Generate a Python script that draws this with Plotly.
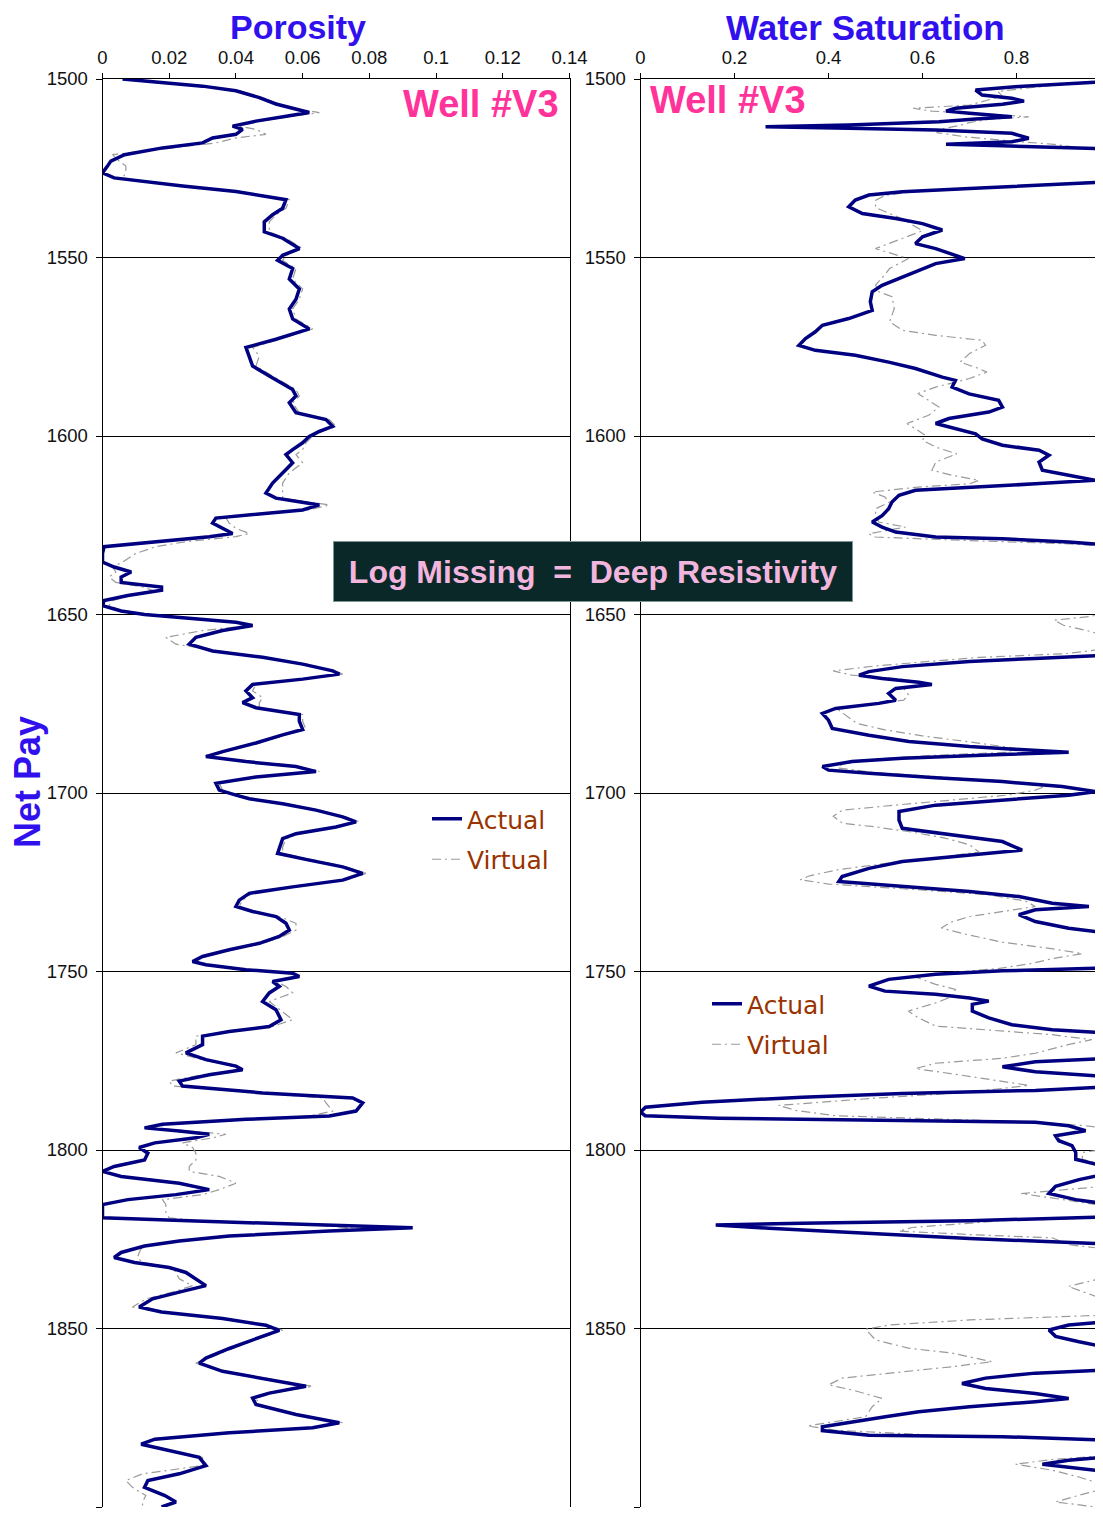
import plotly.graph_objects as go

# ---------------- data ----------------
por_depth = [
    1500.0, 1500.6, 1501.2, 1502.0, 1503.3, 1505.2, 1507.0, 1508.5, 1509.4, 1510.3,
    1511.8, 1513.2, 1514.1, 1515.5, 1516.5, 1517.9, 1519.3, 1521.2, 1523.0, 1524.4,
    1526.3, 1527.7, 1528.7, 1530.0, 1531.5, 1532.9, 1533.8, 1536.2, 1538.0, 1540.0,
    1542.8, 1544.6, 1547.5, 1549.4, 1550.8, 1553.1, 1556.0, 1558.8, 1561.7, 1564.4,
    1567.2, 1570.0, 1572.9, 1575.2, 1577.6, 1580.4, 1583.2, 1587.0, 1588.8, 1590.7,
    1593.5, 1595.4, 1597.3, 1598.7, 1600.1, 1601.9, 1603.8, 1605.2, 1607.5, 1610.3,
    1613.2, 1616.0, 1617.4, 1618.3, 1619.3, 1620.7, 1622.1, 1623.0, 1624.4, 1625.9,
    1627.3, 1628.2, 1629.6, 1631.0, 1632.9, 1635.3, 1636.7, 1638.1, 1639.5, 1641.0,
    1642.3, 1643.2, 1644.7, 1646.1, 1647.5, 1649.0, 1650.0, 1651.2, 1652.2, 1653.1,
    1654.5, 1656.4, 1658.3, 1660.2, 1662.0, 1663.9, 1665.8, 1666.7, 1668.1, 1669.6,
    1671.4, 1673.3, 1674.7, 1676.1, 1678.0, 1679.9, 1682.2, 1683.7, 1686.0, 1688.4,
    1689.8, 1691.2, 1692.6, 1694.0, 1695.5, 1697.3, 1699.2, 1700.6, 1701.6, 1703.0,
    1704.8, 1706.7, 1708.1, 1709.5, 1711.4, 1712.8, 1715.1, 1716.9, 1718.8, 1720.7,
    1722.5, 1724.4, 1726.3, 1728.1, 1730.0, 1731.8, 1733.2, 1734.6, 1736.5, 1738.4,
    1740.2, 1742.1, 1743.9, 1745.8, 1747.2, 1748.1, 1749.5, 1750.5, 1751.4, 1752.8,
    1754.2, 1756.0, 1758.4, 1760.7, 1763.5, 1765.4, 1766.8, 1768.1, 1770.5, 1772.8,
    1774.7, 1776.5, 1777.5, 1778.9, 1780.7, 1782.1, 1784.0, 1785.4, 1786.8, 1789.1,
    1790.5, 1791.4, 1792.8, 1793.8, 1794.7, 1795.6, 1796.6, 1798.0, 1799.3, 1800.9,
    1802.8, 1804.6, 1806.0, 1807.4, 1809.3, 1811.1, 1812.5, 1813.9, 1815.3, 1817.6,
    1819.0, 1819.9, 1820.8, 1821.8, 1822.7, 1824.1, 1825.5, 1826.9, 1828.7, 1830.1,
    1831.5, 1832.9, 1834.3, 1836.1, 1838.0, 1839.8, 1841.7, 1844.0, 1845.4, 1847.2,
    1849.1, 1850.5, 1852.8, 1855.6, 1858.3, 1859.7, 1862.0, 1863.9, 1866.2, 1868.1,
    1869.5, 1871.3, 1874.1, 1876.4, 1877.8, 1879.2, 1881.0, 1882.4, 1884.3, 1886.1,
    1888.4, 1890.7, 1892.6, 1894.5, 1896.8, 1898.6, 1900.0,
]

por_actual = [
    0.006, 0.013, 0.022, 0.030, 0.040, 0.047, 0.052, 0.058, 0.062, 0.056,
    0.046, 0.039, 0.042, 0.040, 0.033, 0.030, 0.018, 0.0066, 0.0025, 0.0015,
    0.000, 0.0035, 0.0126, 0.024, 0.040, 0.050, 0.055, 0.054, 0.051, 0.0485,
    0.0485, 0.054, 0.059, 0.054, 0.0525, 0.057, 0.056, 0.059, 0.058, 0.056,
    0.057, 0.062, 0.052, 0.043, 0.044, 0.045, 0.050, 0.057, 0.058, 0.056,
    0.058, 0.067, 0.069, 0.065, 0.062, 0.060, 0.057, 0.055, 0.057, 0.054,
    0.051, 0.049, 0.052, 0.058, 0.065, 0.060, 0.043, 0.034, 0.033, 0.036,
    0.039, 0.032, 0.016, 0.0005, 0.000, 0.000, 0.0035, 0.0086, 0.0056, 0.0056,
    0.0177, 0.0177, 0.0076, 0.0005, 0.000, 0.0056, 0.0126, 0.028, 0.040, 0.045,
    0.036, 0.028, 0.026, 0.033, 0.048, 0.060, 0.069, 0.071, 0.060, 0.045,
    0.043, 0.045, 0.042, 0.046, 0.059, 0.059, 0.060, 0.054, 0.046, 0.036,
    0.031, 0.043, 0.058, 0.064, 0.046, 0.034, 0.035, 0.040, 0.044, 0.054,
    0.064, 0.072, 0.076, 0.070, 0.058, 0.054, 0.053, 0.0525, 0.062, 0.072,
    0.078, 0.072, 0.057, 0.044, 0.041, 0.040, 0.045, 0.052, 0.055, 0.056,
    0.053, 0.047, 0.038, 0.030, 0.027, 0.031, 0.043, 0.057, 0.059, 0.051,
    0.053, 0.050, 0.048, 0.052, 0.0535, 0.050, 0.038, 0.030, 0.030, 0.025,
    0.031, 0.040, 0.042, 0.032, 0.023, 0.024, 0.048, 0.075, 0.078, 0.076,
    0.068, 0.043, 0.018, 0.0126, 0.023, 0.032, 0.028, 0.0157, 0.011, 0.0136,
    0.0126, 0.0035, 0.000, 0.0056, 0.023, 0.032, 0.022, 0.0076, 0.000, 0.000,
    0.000, 0.028, 0.063, 0.093, 0.068, 0.038, 0.023, 0.0126, 0.0056, 0.0035,
    0.0096, 0.020, 0.025, 0.028, 0.031, 0.023, 0.015, 0.011, 0.0177, 0.036,
    0.049, 0.053, 0.046, 0.038, 0.031, 0.029, 0.036, 0.048, 0.061, 0.050,
    0.045, 0.046, 0.058, 0.071, 0.063, 0.038, 0.0157, 0.0116, 0.020, 0.029,
    0.031, 0.023, 0.0136, 0.0126, 0.0187, 0.022, 0.0177,
]

por_virtual = [
    0.007, 0.014, 0.023, 0.031, 0.041, 0.048, 0.053, 0.059, 0.065, 0.058,
    0.047, 0.041, 0.046, 0.049, 0.040, 0.034, 0.020, 0.003, 0.005, 0.007,
    0.007, 0.006, 0.013, 0.025, 0.041, 0.051, 0.056, 0.055, 0.052, 0.050,
    0.050, 0.055, 0.060, 0.055, 0.054, 0.058, 0.057, 0.060, 0.059, 0.057,
    0.058, 0.063, 0.053, 0.045, 0.047, 0.046, 0.051, 0.058, 0.059, 0.057,
    0.059, 0.068, 0.070, 0.066, 0.063, 0.061, 0.060, 0.058, 0.060, 0.056,
    0.054, 0.054, 0.054, 0.060, 0.068, 0.062, 0.045, 0.037, 0.038, 0.040,
    0.044, 0.040, 0.025, 0.016, 0.010, 0.006, 0.003, 0.004, 0.002, 0.004,
    0.012, 0.015, 0.008, 0.003, 0.002, 0.006, 0.013, 0.027, 0.039, 0.044,
    0.030, 0.019, 0.022, 0.034, 0.049, 0.061, 0.070, 0.072, 0.061, 0.046,
    0.045, 0.048, 0.047, 0.047, 0.060, 0.060, 0.061, 0.055, 0.047, 0.037,
    0.032, 0.044, 0.059, 0.065, 0.047, 0.035, 0.036, 0.041, 0.045, 0.055,
    0.065, 0.073, 0.077, 0.071, 0.059, 0.055, 0.054, 0.054, 0.063, 0.073,
    0.079, 0.073, 0.058, 0.045, 0.042, 0.041, 0.046, 0.053, 0.058, 0.058,
    0.054, 0.048, 0.039, 0.031, 0.028, 0.032, 0.044, 0.056, 0.058, 0.052,
    0.055, 0.057, 0.050, 0.053, 0.057, 0.051, 0.037, 0.028, 0.028, 0.022,
    0.030, 0.039, 0.041, 0.030, 0.020, 0.021, 0.046, 0.066, 0.067, 0.069,
    0.062, 0.045, 0.020, 0.015, 0.025, 0.037, 0.033, 0.024, 0.027, 0.028,
    0.028, 0.026, 0.026, 0.035, 0.040, 0.035, 0.030, 0.018, 0.019, 0.019,
    0.020, 0.030, 0.060, 0.075, 0.066, 0.037, 0.022, 0.012, 0.011, 0.0105,
    0.012, 0.021, 0.022, 0.023, 0.027, 0.021, 0.013, 0.009, 0.017, 0.037,
    0.050, 0.054, 0.047, 0.039, 0.032, 0.028, 0.037, 0.049, 0.063, 0.051,
    0.046, 0.047, 0.059, 0.072, 0.064, 0.039, 0.017, 0.012, 0.021, 0.030,
    0.030, 0.012, 0.007, 0.009, 0.013, 0.012, 0.012,
]

sw_depth = [
    1500.0, 1500.7, 1502.1, 1503.1, 1504.5, 1505.4, 1506.2, 1507.1, 1508.2, 1509.0,
    1509.6, 1510.6, 1511.2, 1512.0, 1512.9, 1513.4, 1513.8, 1514.3, 1515.2, 1516.6,
    1517.6, 1518.3, 1518.7, 1519.3, 1519.6, 1528.8, 1529.7, 1530.7, 1531.6, 1532.5,
    1533.9, 1535.8, 1537.7, 1539.1, 1540.5, 1542.3, 1544.2, 1546.1, 1547.5, 1549.3,
    1550.3, 1551.7, 1554.0, 1555.9, 1557.8, 1559.6, 1562.4, 1564.8, 1567.1, 1569.0,
    1570.8, 1572.7, 1574.6, 1576.0, 1577.4, 1579.3, 1581.1, 1583.5, 1584.4, 1586.3,
    1588.2, 1590.0, 1591.9, 1593.3, 1595.1, 1596.5, 1598.0, 1599.4, 1600.8, 1602.6,
    1604.0, 1605.4, 1607.3, 1609.6, 1611.0, 1612.4, 1613.4, 1614.3, 1615.2, 1616.6,
    1618.5, 1620.4, 1622.3, 1624.1, 1625.5, 1626.9, 1628.3, 1628.8, 1629.7, 1630.6,
    1661.4, 1662.3, 1663.2, 1664.6, 1666.0, 1667.0, 1667.9, 1669.0, 1669.6, 1670.7,
    1672.1, 1674.0, 1674.9, 1676.3, 1677.7, 1679.6, 1681.9, 1683.8, 1685.6, 1687.0,
    1688.0, 1688.6, 1689.2, 1690.3, 1691.2, 1692.6, 1693.6, 1694.5, 1695.7, 1696.8,
    1698.2, 1699.6, 1700.6, 1702.0, 1703.4, 1705.2, 1707.6, 1709.9, 1711.8, 1713.6,
    1716.0, 1717.3, 1719.2, 1721.1, 1723.4, 1724.8, 1726.2, 1727.6, 1729.0, 1730.9,
    1731.8, 1732.7, 1734.1, 1736.0, 1737.9, 1739.3, 1749.0, 1749.8, 1750.8, 1752.2,
    1754.1, 1755.5, 1756.4, 1757.4, 1758.3, 1759.2, 1761.1, 1763.0, 1764.9, 1766.3,
    1767.3, 1774.3, 1775.3, 1776.7, 1778.1, 1779.5, 1782.3, 1783.3, 1784.2, 1785.2,
    1786.6, 1788.0, 1789.4, 1790.4, 1791.1, 1791.5, 1791.8, 1792.2, 1793.2, 1794.6,
    1796.0, 1797.4, 1798.8, 1800.7, 1802.6, 1804.0, 1805.0, 1806.4, 1808.3, 1810.2,
    1812.2, 1813.9, 1815.3, 1818.7, 1819.8, 1820.5, 1821.0, 1821.9, 1822.9, 1823.8,
    1824.8, 1825.7, 1826.4, 1848.0, 1849.0, 1850.4, 1852.2, 1853.7, 1855.5, 1861.6,
    1862.5, 1863.9, 1865.4, 1866.8, 1868.2, 1869.6, 1870.5, 1871.9, 1873.3, 1874.7,
    1876.1, 1877.5, 1878.6, 1879.9, 1880.3, 1881.3, 1885.9, 1886.9, 1888.0, 1888.8,
    1890.2, 1900.0,
]

sw_actual = [
    1.0, 1.0, 0.805, 0.713, 0.727, 0.79, 0.816, 0.77, 0.67, 0.65,
    0.70, 0.79, 0.713, 0.635, 0.443, 0.266, 0.443, 0.628, 0.79, 0.826,
    0.79, 0.65, 0.77, 0.91, 1.0, 1.0, 0.84, 0.70, 0.557, 0.486,
    0.457, 0.443, 0.472, 0.543, 0.60, 0.642, 0.60, 0.585, 0.628, 0.67,
    0.69, 0.628, 0.585, 0.55, 0.514, 0.493, 0.489, 0.493, 0.443, 0.387,
    0.372, 0.351, 0.337, 0.372, 0.457, 0.528, 0.585, 0.642, 0.67, 0.663,
    0.699, 0.762, 0.77, 0.741, 0.656, 0.628, 0.67, 0.713, 0.727, 0.77,
    0.848, 0.869, 0.848, 0.855, 0.911, 0.968, 0.84, 0.70, 0.585, 0.55,
    0.535, 0.528, 0.514, 0.493, 0.514, 0.543, 0.628, 0.77, 0.911, 1.0,
    1.0, 0.84, 0.70, 0.557, 0.486, 0.465, 0.514, 0.592, 0.62, 0.543,
    0.528, 0.543, 0.507, 0.415, 0.387, 0.40, 0.408, 0.486, 0.571, 0.70,
    0.855, 0.911, 0.77, 0.557, 0.45, 0.387, 0.40, 0.486, 0.628, 0.77,
    0.897, 0.968, 0.911, 0.77, 0.628, 0.55, 0.55, 0.557, 0.663, 0.77,
    0.812, 0.70, 0.557, 0.486, 0.429, 0.422, 0.557, 0.70, 0.805, 0.876,
    0.954, 0.84, 0.805, 0.84, 0.911, 1.0, 1.0, 0.77, 0.628, 0.528,
    0.486, 0.52, 0.628, 0.70, 0.741, 0.706, 0.706, 0.741, 0.79, 0.876,
    1.0, 1.0, 0.84, 0.77, 0.84, 1.0, 1.0, 0.84, 0.557, 0.344,
    0.131, 0.0106, 0.0, 0.01, 0.167, 0.415, 0.663, 0.84, 0.911, 0.947,
    0.883, 0.89, 0.918, 0.926, 0.926, 0.968, 1.0, 1.0, 0.933, 0.883,
    0.869, 0.926, 1.0, 1.0, 0.70, 0.344, 0.16, 0.273, 0.415, 0.557,
    0.70, 0.876, 1.0, 1.0, 0.911, 0.869, 0.883, 0.933, 1.0, 1.0,
    0.84, 0.734, 0.684, 0.734, 0.84, 0.911, 0.84, 0.70, 0.592, 0.521,
    0.45, 0.387, 0.387, 0.486, 0.77, 1.0, 1.0, 0.911, 0.855, 0.911,
    1.0, 1.0,
]

swv_depth = [
    1500.0, 1500.5, 1502.0, 1503.5, 1504.8, 1505.8, 1507.3, 1508.2, 1509.0, 1509.8,
    1510.6, 1511.3, 1512.2, 1513.0, 1514.0, 1515.0, 1516.2, 1517.5, 1518.3, 1519.0,
    1519.8, 1528.5, 1529.7, 1530.7, 1531.6, 1532.6, 1534.0, 1536.0, 1537.7, 1539.3,
    1541.0, 1542.5, 1545.0, 1547.5, 1550.3, 1553.1, 1554.8, 1557.7, 1559.6, 1561.0,
    1564.3, 1568.0, 1570.4, 1571.8, 1573.2, 1574.6, 1576.9, 1579.3, 1581.1, 1582.1,
    1583.9, 1586.3, 1588.1, 1590.0, 1591.9, 1594.2, 1596.5, 1598.0, 1599.8, 1601.2,
    1603.1, 1605.0, 1607.3, 1609.6, 1611.0, 1612.4, 1613.4, 1614.3, 1615.7, 1617.1,
    1618.5, 1620.4, 1622.3, 1624.1, 1625.5, 1627.4, 1628.3, 1629.3, 1630.2, 1631.0,
    1649.0, 1650.5, 1651.6, 1653.0, 1654.5, 1656.0, 1657.5, 1659.5, 1661.0, 1662.0,
    1663.2, 1664.4, 1665.8, 1667.0, 1668.0, 1669.3, 1670.6, 1672.5, 1674.0, 1675.2,
    1676.6, 1678.5, 1680.5, 1682.3, 1684.0, 1685.7, 1687.5, 1688.6, 1689.5, 1690.5,
    1691.8, 1693.0, 1694.3, 1695.5, 1696.9, 1698.2, 1699.2, 1700.6, 1701.9, 1703.3,
    1704.8, 1706.5, 1708.5, 1709.5, 1711.0, 1712.7, 1714.5, 1716.5, 1718.0, 1719.6,
    1721.5, 1723.2, 1724.3, 1725.5, 1727.0, 1728.5, 1730.3, 1731.8, 1733.0, 1734.6,
    1736.2, 1737.8, 1739.5, 1741.8, 1743.5, 1745.0, 1746.3, 1747.8, 1749.2, 1750.3,
    1751.2, 1753.6, 1755.0, 1757.0, 1758.8, 1761.1, 1762.9, 1765.3, 1766.3, 1767.7,
    1769.1, 1770.5, 1772.9, 1774.3, 1775.7, 1777.2, 1778.6, 1780.5, 1781.9, 1783.8,
    1785.6, 1787.5, 1788.9, 1790.4, 1791.4, 1792.2, 1793.2, 1794.1, 1799.5, 1800.7,
    1802.6, 1804.5, 1810.0, 1812.2, 1814.1, 1815.9, 1818.9, 1819.8, 1821.7, 1822.7,
    1823.7, 1824.6, 1826.5, 1827.9, 1835.0, 1836.3, 1838.2, 1841.0, 1842.5, 1846.2,
    1847.6, 1849.0, 1850.2, 1853.2, 1855.5, 1856.9, 1859.3, 1860.7, 1862.1, 1863.9,
    1865.8, 1867.2, 1869.6, 1871.9, 1874.7, 1876.1, 1877.3, 1878.5, 1879.9, 1880.5,
    1881.3, 1885.5, 1886.7, 1888.0, 1889.7, 1891.6, 1894.4, 1896.7, 1898.6, 1900.0,
]

sw_virtual = [
    1.0, 0.97, 0.86, 0.76, 0.77, 0.74, 0.70, 0.58, 0.62, 0.74,
    0.826, 0.74, 0.70, 0.68, 0.64, 0.63, 0.69, 0.80, 0.88, 0.92,
    1.0, 1.0, 0.86, 0.72, 0.58, 0.52, 0.50, 0.50, 0.53, 0.56,
    0.58, 0.60, 0.55, 0.50, 0.57, 0.53, 0.52, 0.50, 0.507, 0.535,
    0.54, 0.53, 0.557, 0.628, 0.727, 0.734, 0.70, 0.68, 0.72, 0.737,
    0.70, 0.628, 0.59, 0.613, 0.635, 0.613, 0.567, 0.585, 0.606, 0.60,
    0.628, 0.673, 0.628, 0.62, 0.663, 0.72, 0.70, 0.59, 0.493, 0.52,
    0.53, 0.50, 0.50, 0.507, 0.564, 0.486, 0.50, 0.70, 0.91, 1.0,
    1.0, 0.96, 0.88, 0.90, 0.95, 0.99, 1.0, 1.0, 0.90, 0.72,
    0.60, 0.50, 0.41, 0.45, 0.55, 0.61, 0.56, 0.57, 0.56, 0.48,
    0.42, 0.44, 0.46, 0.52, 0.60, 0.70, 0.80, 0.78, 0.62, 0.50,
    0.43, 0.42, 0.50, 0.64, 0.78, 0.86, 0.84, 0.78, 0.66, 0.55,
    0.43, 0.41, 0.43, 0.50, 0.58, 0.65, 0.70, 0.72, 0.64, 0.53,
    0.42, 0.36, 0.34, 0.40, 0.58, 0.74, 0.82, 0.84, 0.78, 0.70,
    0.66, 0.64, 0.69, 0.77, 0.87, 0.94, 0.88, 0.83, 0.76, 0.66,
    0.578, 0.628, 0.67, 0.663, 0.628, 0.57, 0.59, 0.628, 0.73, 0.876,
    0.96, 0.91, 0.84, 0.77, 0.628, 0.585, 0.66, 0.755, 0.826, 0.70,
    0.486, 0.294, 0.33, 0.415, 0.628, 0.84, 0.947, 1.0, 1.0, 0.94,
    0.94, 1.0, 1.0, 0.81, 0.91, 1.0, 1.0, 0.77, 0.578, 0.55,
    0.70, 0.876, 0.91, 1.0, 1.0, 0.97, 0.91, 0.97, 1.0, 1.0,
    0.70, 0.53, 0.479, 0.50, 0.57, 0.663, 0.748, 0.663, 0.557, 0.429,
    0.40, 0.45, 0.514, 0.493, 0.479, 0.415, 0.355, 0.415, 0.628, 0.84,
    1.0, 1.0, 0.876, 0.798, 0.876, 0.933, 1.0, 0.933, 0.883, 0.97,
]

assert len(por_depth) == len(por_actual) == len(por_virtual)
assert len(sw_depth) == len(sw_actual)
assert len(swv_depth) == len(sw_virtual)

por_ticks = [0, 0.02, 0.04, 0.06, 0.08, 0.1, 0.12, 0.14]
por_ticktext = ["0", "0.02", "0.04", "0.06", "0.08", "0.1", "0.12", "0.14"]
sw_ticks = [0, 0.2, 0.4, 0.6, 0.8]
sw_ticktext = ["0", "0.2", "0.4", "0.6", "0.8"]
depth_ticks = [1500, 1550, 1600, 1650, 1700, 1750, 1800, 1850, 1900]

# ---------------- styling ----------------
PAGE_OFF = 8                      # default body margin of the page
W, H = 1103 - PAGE_OFF, 1517 - PAGE_OFF
NAVY = "#000080"
GRAY = "#9a9a9a"
BLUE = "#3110ee"
PINK = "#ff3399"
BROWN = "#993300"
FONT = "Liberation Sans, Arial, sans-serif"


def px(x):
    return (x - PAGE_OFF) / W


def py(y):
    return 1 - (y - PAGE_OFF) / H


dom_y = [py(1507), py(79)]

fig = go.Figure()

line_v = dict(color=GRAY, width=1.2, dash="9px,4px,2px,4px")
line_a = dict(color=NAVY, width=3.5)

fig.add_trace(go.Scatter(x=por_virtual, y=por_depth, mode="lines", name="Virtual",
                         line=line_v, xaxis="x", yaxis="y",
                         legend="legend", legendrank=2, legendgroup="v1"))
fig.add_trace(go.Scatter(x=por_actual, y=por_depth, mode="lines", name="Actual",
                         line=line_a, xaxis="x", yaxis="y",
                         legend="legend", legendrank=1, legendgroup="a1"))
fig.add_trace(go.Scatter(x=sw_virtual, y=swv_depth, mode="lines", name="Virtual",
                         line=line_v, xaxis="x2", yaxis="y2",
                         legend="legend2", legendrank=2, legendgroup="v2"))
fig.add_trace(go.Scatter(x=sw_actual, y=sw_depth, mode="lines", name="Actual",
                         line=line_a, xaxis="x2", yaxis="y2",
                         legend="legend2", legendrank=1, legendgroup="a2"))

tickfont = dict(family=FONT, size=18.5, color="#111111")

xcommon = dict(side="top", ticks="outside", ticklen=5, tickcolor="black",
               showline=True, linecolor="black", linewidth=1, showgrid=False,
               zeroline=False, tickfont=tickfont, ticklabelstandoff=2)
ycommon = dict(range=[1900, 1500], tickvals=depth_ticks, ticks="outside", ticklen=6,
               tickcolor="black", showline=True, linecolor="black", linewidth=1,
               showgrid=True, gridcolor="black", gridwidth=1, zeroline=False,
               tickfont=tickfont, domain=dom_y, ticklabelstandoff=4)

legend_common = dict(font=dict(family="DejaVu Sans, sans-serif", size=25, color=BROWN),
                     bgcolor="rgba(0,0,0,0)", borderwidth=0, tracegroupgap=5,
                     xanchor="left", yanchor="top", traceorder="grouped")

fig.update_layout(
    width=W, height=H,
    margin=dict(l=0, r=0, t=0, b=0, autoexpand=False),
    paper_bgcolor="white", plot_bgcolor="white",
    xaxis=dict(domain=[px(102.5), px(569.5)], range=[0, 0.14], tickvals=por_ticks,
               ticktext=por_ticktext, anchor="y", **xcommon),
    yaxis=dict(anchor="x", mirror=True, **ycommon),
    xaxis2=dict(domain=[px(640.5), 1.0], range=[0, 0.984], tickvals=sw_ticks,
                ticktext=sw_ticktext, anchor="y2", **xcommon),
    yaxis2=dict(anchor="x2", **ycommon),
    legend=dict(x=px(427), y=py(796), **legend_common),
    legend2=dict(x=px(707), y=py(981), **legend_common),
    showlegend=True,
)

annots = [
    dict(text="<b>Porosity</b>", x=px(298), y=py(27.5), size=34, color=BLUE, angle=0),
    dict(text="<b>Water Saturation</b>", x=px(865), y=py(27.6), size=35, color=BLUE, angle=0),
    dict(text="<b>Net Pay</b>", x=px(27), y=py(782), size=36, color=BLUE, angle=-90),
    dict(text="<b>Well #V3</b>", x=px(481), y=py(104), size=38, color=PINK, angle=0),
    dict(text="<b>Well #V3</b>", x=px(728), y=py(100), size=38, color=PINK, angle=0),
]
for a in annots:
    fig.add_annotation(text=a["text"], x=a["x"], y=a["y"], xref="paper", yref="paper",
                       xanchor="center", yanchor="middle", showarrow=False,
                       textangle=a["angle"], borderpad=0,
                       font=dict(family=FONT, size=a["size"], color=a["color"]))

fig.add_annotation(text="<b>Log Missing  =  Deep Resistivity</b>",
                   x=px(593), y=py(571.5), xref="paper", yref="paper",
                   xanchor="center", yanchor="middle", showarrow=False,
                   width=514, height=55, borderpad=2, borderwidth=1,
                   bordercolor="#7d9696", bgcolor="#0b2828",
                   font=dict(family=FONT, size=32, color="#f2b6de"))

fig.write_html("out.html")
